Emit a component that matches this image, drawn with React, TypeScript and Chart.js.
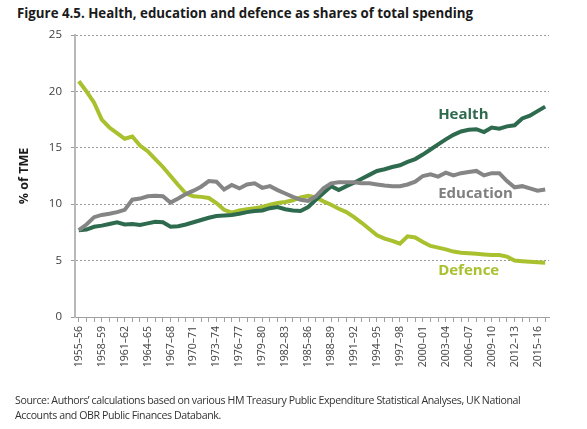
import { useEffect, useRef } from 'react';
import { Chart, registerables } from 'chart.js';

Chart.register(...registerables);

// financial years, one point per year
const years = [
  '1955–56', '1956–57', '1957–58', '1958–59', '1959–60', '1960–61', '1961–62', '1962–63',
  '1963–64', '1964–65', '1965–66', '1966–67', '1967–68', '1968–69', '1969–70', '1970–71',
  '1971–72', '1972–73', '1973–74', '1974–75', '1975–76', '1976–77', '1977–78', '1978–79',
  '1979–80', '1980–81', '1981–82', '1982–83', '1983–84', '1984–85', '1985–86', '1986–87',
  '1987–88', '1988–89', '1989–90', '1990–91', '1991–92', '1992–93', '1993–94', '1994–95',
  '1995–96', '1996–97', '1997–98', '1998–99', '1999–00', '2000–01', '2001–02', '2002–03',
  '2003–04', '2004–05', '2005–06', '2006–07', '2007–08', '2008–09', '2009–10', '2010–11',
  '2011–12', '2012–13', '2013–14', '2014–15', '2015–16', '2016–17',
];

// % of TME
const health = [
  7.7, 7.75, 8.0, 8.1, 8.25, 8.4, 8.2, 8.25, 8.15, 8.3, 8.45, 8.4, 8.0, 8.05, 8.2, 8.4,
  8.6, 8.8, 8.95, 9.0, 9.05, 9.15, 9.3, 9.4, 9.45, 9.65, 9.75, 9.55, 9.45, 9.4, 9.75, 10.4,
  11.0, 11.6, 11.25, 11.6, 11.9, 12.25, 12.6, 12.95, 13.1, 13.3, 13.45, 13.75, 14.0, 14.4,
  14.85, 15.3, 15.75, 16.15, 16.45, 16.6, 16.65, 16.4, 16.8, 16.7, 16.9, 17.0, 17.6, 17.85,
  18.25, 18.65,
];

const education = [
  7.7, 8.2, 8.85, 9.05, 9.15, 9.3, 9.5, 10.4, 10.5, 10.7, 10.75, 10.7, 10.15, 10.5, 10.9, 11.2,
  11.55, 12.05, 12.0, 11.3, 11.7, 11.4, 11.75, 11.85, 11.45, 11.6, 11.25, 10.95, 10.65, 10.4,
  10.3, 10.7, 11.4, 11.85, 11.95, 11.95, 11.95, 11.85, 11.85, 11.75, 11.65, 11.6, 11.6, 11.75,
  12.0, 12.5, 12.65, 12.45, 12.8, 12.55, 12.75, 12.85, 12.95, 12.55, 12.75, 12.75, 12.05, 11.5,
  11.6, 11.4, 11.2, 11.3,
];

const defence = [
  20.9, 20.0, 19.0, 17.5, 16.8, 16.3, 15.8, 16.0, 15.2, 14.7, 14.0, 13.3, 12.5, 11.7, 10.95,
  10.7, 10.65, 10.55, 10.1, 9.5, 9.25, 9.45, 9.55, 9.65, 9.75, 9.95, 10.1, 10.2, 10.35, 10.6,
  10.75, 10.6, 10.25, 9.95, 9.6, 9.3, 8.85, 8.35, 7.8, 7.25, 6.95, 6.75, 6.5, 7.15, 7.05, 6.65,
  6.3, 6.15, 6.0, 5.8, 5.7, 5.65, 5.6, 5.55, 5.5, 5.5, 5.35, 5.0, 4.95, 4.9, 4.85, 4.8,
];

const GREEN = '#2e6a4e';
const GREY = '#858585';
const LIME = '#a9c12f';

// in-chart series labels, anchored to a category and a value
const seriesLabels = [
  { text: 'Health', at: 47, value: 17.9, color: GREEN },
  { text: 'Education', at: 47, value: 10.9, color: '#7f7f7f' },
  { text: 'Defence', at: 47, value: 4.1, color: LIME },
];

const FONT = '"Open Sans", "Noto Sans", sans-serif';

const labelPlugin = {
  id: 'seriesLabels',
  afterDatasetsDraw(chart: any) {
    const { ctx, scales } = chart;
    ctx.save();
    ctx.font = `bold 15px ${FONT}`;
    ctx.textAlign = 'left';
    ctx.textBaseline = 'middle';
    seriesLabels.forEach((l) => {
      ctx.fillStyle = l.color;
      ctx.fillText(l.text, scales.x.getPixelForValue(l.at), scales.y.getPixelForValue(l.value));
    });
    ctx.restore();
  },
};

const App = () => {
  const canvasRef = useRef<HTMLCanvasElement | null>(null);

  useEffect(() => {
    document.body.style.margin = '0';
    if (!canvasRef.current) return;

    const line = (label: string, data: number[], color: string) => ({
      label,
      data,
      borderColor: color,
      backgroundColor: color,
      borderWidth: 4,
      pointRadius: 0,
      tension: 0,
    });

    const chart = new Chart(canvasRef.current, {
      type: 'line',
      data: {
        labels: years,
        datasets: [
          line('Education', education, GREY),
          line('Health', health, GREEN),
          line('Defence', defence, LIME),
        ],
      },
      options: {
        animation: false,
        responsive: true,
        maintainAspectRatio: false,
        layout: { padding: { top: 35, right: 38, bottom: 52, left: 0 } },
        plugins: {
          legend: { display: false },
          tooltip: { enabled: false },
        },
        scales: {
          x: {
            offset: true,
            grid: { drawOnChartArea: false, drawTicks: true, tickLength: 5, color: '#a0a0a0' },
            border: { color: '#a0a0a0', width: 1 },
            ticks: {
              autoSkip: false,
              minRotation: 90,
              maxRotation: 90,
              padding: 4,
              color: '#404040',
              font: { family: FONT, size: 10.5 },
              callback: (_v: any, i: number) => (i % 3 === 0 ? years[i] : ''),
            },
            afterFit: (s: any) => {
              s.height = 60;
            },
          },
          y: {
            min: 0,
            max: 25,
            grid: { color: '#9a9a9a', lineWidth: 1, tickLength: 4 },
            border: { color: '#b8b8b8', width: 2, dash: [2, 2] },
            ticks: {
              stepSize: 5,
              padding: 9,
              color: '#404040',
              font: { family: FONT, size: 11.5 },
            },
            title: {
              display: true,
              text: '% of TME',
              color: '#1a1a1a',
              font: { family: FONT, size: 12.5, weight: 'bold' },
              padding: { top: 17, bottom: 0 },
            },
            afterFit: (s: any) => {
              s.width = 75;
            },
          },
        },
      },
      plugins: [labelPlugin],
    } as any);

    return () => chart.destroy();
  }, []);

  return (
    <div style={{ position: 'relative', width: 587, height: 429, background: '#fff', fontFamily: FONT }}>
      <div
        style={{
          position: 'absolute',
          left: 17,
          top: 4,
          fontSize: 13.3,
          fontWeight: 'bold',
          color: '#1a1a1a',
          whiteSpace: 'nowrap',
        }}
      >
        Figure 4.5. Health, education and defence as shares of total spending
      </div>
      <div style={{ position: 'absolute', left: 0, top: 0, width: 587, height: 429 }}>
        <canvas ref={canvasRef} />
      </div>
      <div
        style={{
          position: 'absolute',
          left: 15,
          top: 393,
          fontSize: 10.6,
          letterSpacing: -0.4,
          lineHeight: '15px',
          color: '#333',
          whiteSpace: 'nowrap',
        }}
      >
        Source: Authors’ calculations based on various HM Treasury Public Expenditure Statistical Analyses, UK National
        <br />
        Accounts and OBR Public Finances Databank.
      </div>
    </div>
  );
};

export default App;
